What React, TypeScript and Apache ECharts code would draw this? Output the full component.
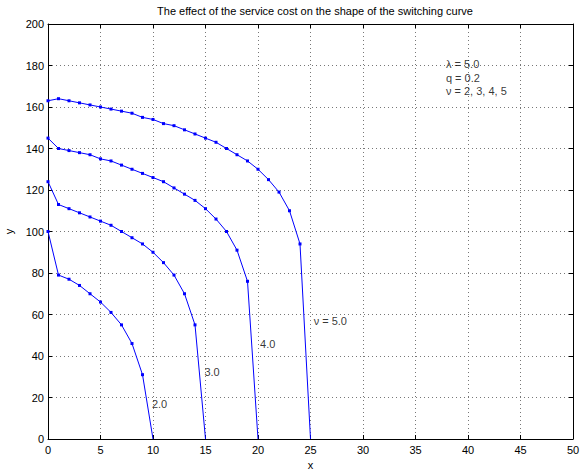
import React, { useEffect, useRef } from "react";
import * as echarts from "echarts";

const TITLE = "The effect of the service cost on the shape of the switching curve";

const xNu2 = [0, 1, 2, 3, 4, 5, 6, 7, 8, 9, 10];
const yNu2 = [100, 79, 77, 74, 70, 66, 61, 55, 46, 31, 0];

const xNu3 = [0, 1, 2, 3, 4, 5, 6, 7, 8, 9, 10, 11, 12, 13, 14, 15];
const yNu3 = [124, 113, 111, 109, 107, 105, 103, 100, 97, 94, 90, 85, 79, 70, 55, 0];

const xNu4 = [0, 1, 2, 3, 4, 5, 6, 7, 8, 9, 10, 11, 12, 13, 14, 15, 16, 17, 18, 19, 20];
const yNu4 = [145, 140, 139, 138, 137, 135, 134, 132, 130, 128, 126, 124, 121, 118, 115, 111, 106, 100, 91, 76, 0];

const xNu5 = [0, 1, 2, 3, 4, 5, 6, 7, 8, 9, 10, 11, 12, 13, 14, 15, 16, 17, 18, 19, 20, 21, 22, 23, 24, 25];
const yNu5 = [163, 164, 163, 162, 161, 160, 159, 158, 157, 155, 154, 152, 151, 149, 147, 145, 143, 140, 137, 134, 130, 125, 119, 110, 94, 0];

const curveNames = ["ν = 2.0", "ν = 3.0", "ν = 4.0", "ν = 5.0"];

const labelTexts = ["2.0", "3.0", "4.0", "ν = 5.0", "λ = 5.0", "q = 0.2", "ν = 2, 3, 4, 5"];
const labelX = [9.9, 14.9, 20.2, 25.3, 37.9, 37.9, 37.9];
const labelY = [16.9, 32.3, 45.8, 56.9, 180.7, 174.2, 167.7];

const FONT = "'Liberation Sans', Arial, Helvetica, sans-serif";

function buildData(xs: number[], ys: number[]) {
  return xs.map((x, i) =>
    i === xs.length - 1 ? { value: [x, ys[i]], symbol: "none" } : { value: [x, ys[i]] }
  );
}

export default function App() {
  const ref = useRef<HTMLDivElement>(null);
  useEffect(() => {
    document.body.style.margin = "0";
    if (!ref.current) return;
    const chart = echarts.init(ref.current, undefined, { renderer: "svg" });
    const curves = [
      [xNu2, yNu2],
      [xNu3, yNu3],
      [xNu4, yNu4],
      [xNu5, yNu5],
    ];
    const splitLine = {
      show: true,
      lineStyle: { color: "#777", type: [1, 3] as any, width: 1 },
    };
    const axisLine = { show: true, onZero: false, lineStyle: { color: "#000", width: 1 } };
    const axisTick = { show: true, inside: true, length: 4, lineStyle: { color: "#000" } };
    const labelStyle = { color: "#000", fontSize: 11, fontFamily: FONT };
    chart.setOption({
      animation: false,
      backgroundColor: "#fff",
      textStyle: { fontFamily: FONT },
      title: {
        text: TITLE,
        left: 310,
        textAlign: "center",
        top: 0,
        textStyle: { fontSize: 11, fontWeight: "normal", color: "#000", fontFamily: FONT },
      },
      grid: {
        left: 48,
        right: 9,
        top: 24,
        bottom: 33,
        containLabel: false,
        outerBoundsMode: "none",
      },
      xAxis: [
        {
          type: "value",
          min: 0,
          max: 50,
          interval: 5,
          position: "bottom",
          name: "x",
          nameLocation: "middle",
          nameGap: 18,
          nameTextStyle: labelStyle,
          axisLine,
          axisTick,
          axisLabel: { ...labelStyle, margin: 5 },
          splitLine,
        },
        {
          type: "value",
          min: 0,
          max: 50,
          interval: 5,
          position: "top",
          axisLine,
          axisTick,
          axisLabel: { show: false },
          splitLine: { show: false },
        },
      ],
      yAxis: [
        {
          type: "value",
          min: 0,
          max: 200,
          interval: 20,
          position: "left",
          name: "y",
          nameLocation: "middle",
          nameGap: 29,
          nameRotate: 90,
          nameTextStyle: labelStyle,
          axisLine,
          axisTick,
          axisLabel: { ...labelStyle, margin: 4 },
          splitLine,
        },
        {
          type: "value",
          min: 0,
          max: 200,
          interval: 20,
          position: "right",
          axisLine,
          axisTick,
          axisLabel: { show: false },
          splitLine: { show: false },
        },
      ],
      series: [
        ...curves.map(([xs, ys], i) => ({
          name: curveNames[i],
          type: "line",
          xAxisIndex: 0,
          yAxisIndex: 0,
          data: buildData(xs, ys),
          symbol: "rect",
          symbolSize: 3,
          showAllSymbol: true,
          lineStyle: { color: "#0000ff", width: 1 },
          itemStyle: { color: "#0000ff" },
          silent: true,
        })),
        {
          name: "labels",
          type: "scatter",
          xAxisIndex: 0,
          yAxisIndex: 0,
          symbolSize: 0,
          silent: true,
          data: labelTexts.map((t, i) => ({ value: [labelX[i], labelY[i]], name: t })),
          label: {
            show: true,
            position: "right",
            distance: 0,
            formatter: (p: any) => p.name,
            color: "#000",
            fontSize: 11,
            fontFamily: FONT,
            align: "left",
            verticalAlign: "middle",
          },
        },
      ],
    });
    return () => chart.dispose();
  }, []);
  return <div ref={ref} style={{ width: 582, height: 472 }} />;
}
